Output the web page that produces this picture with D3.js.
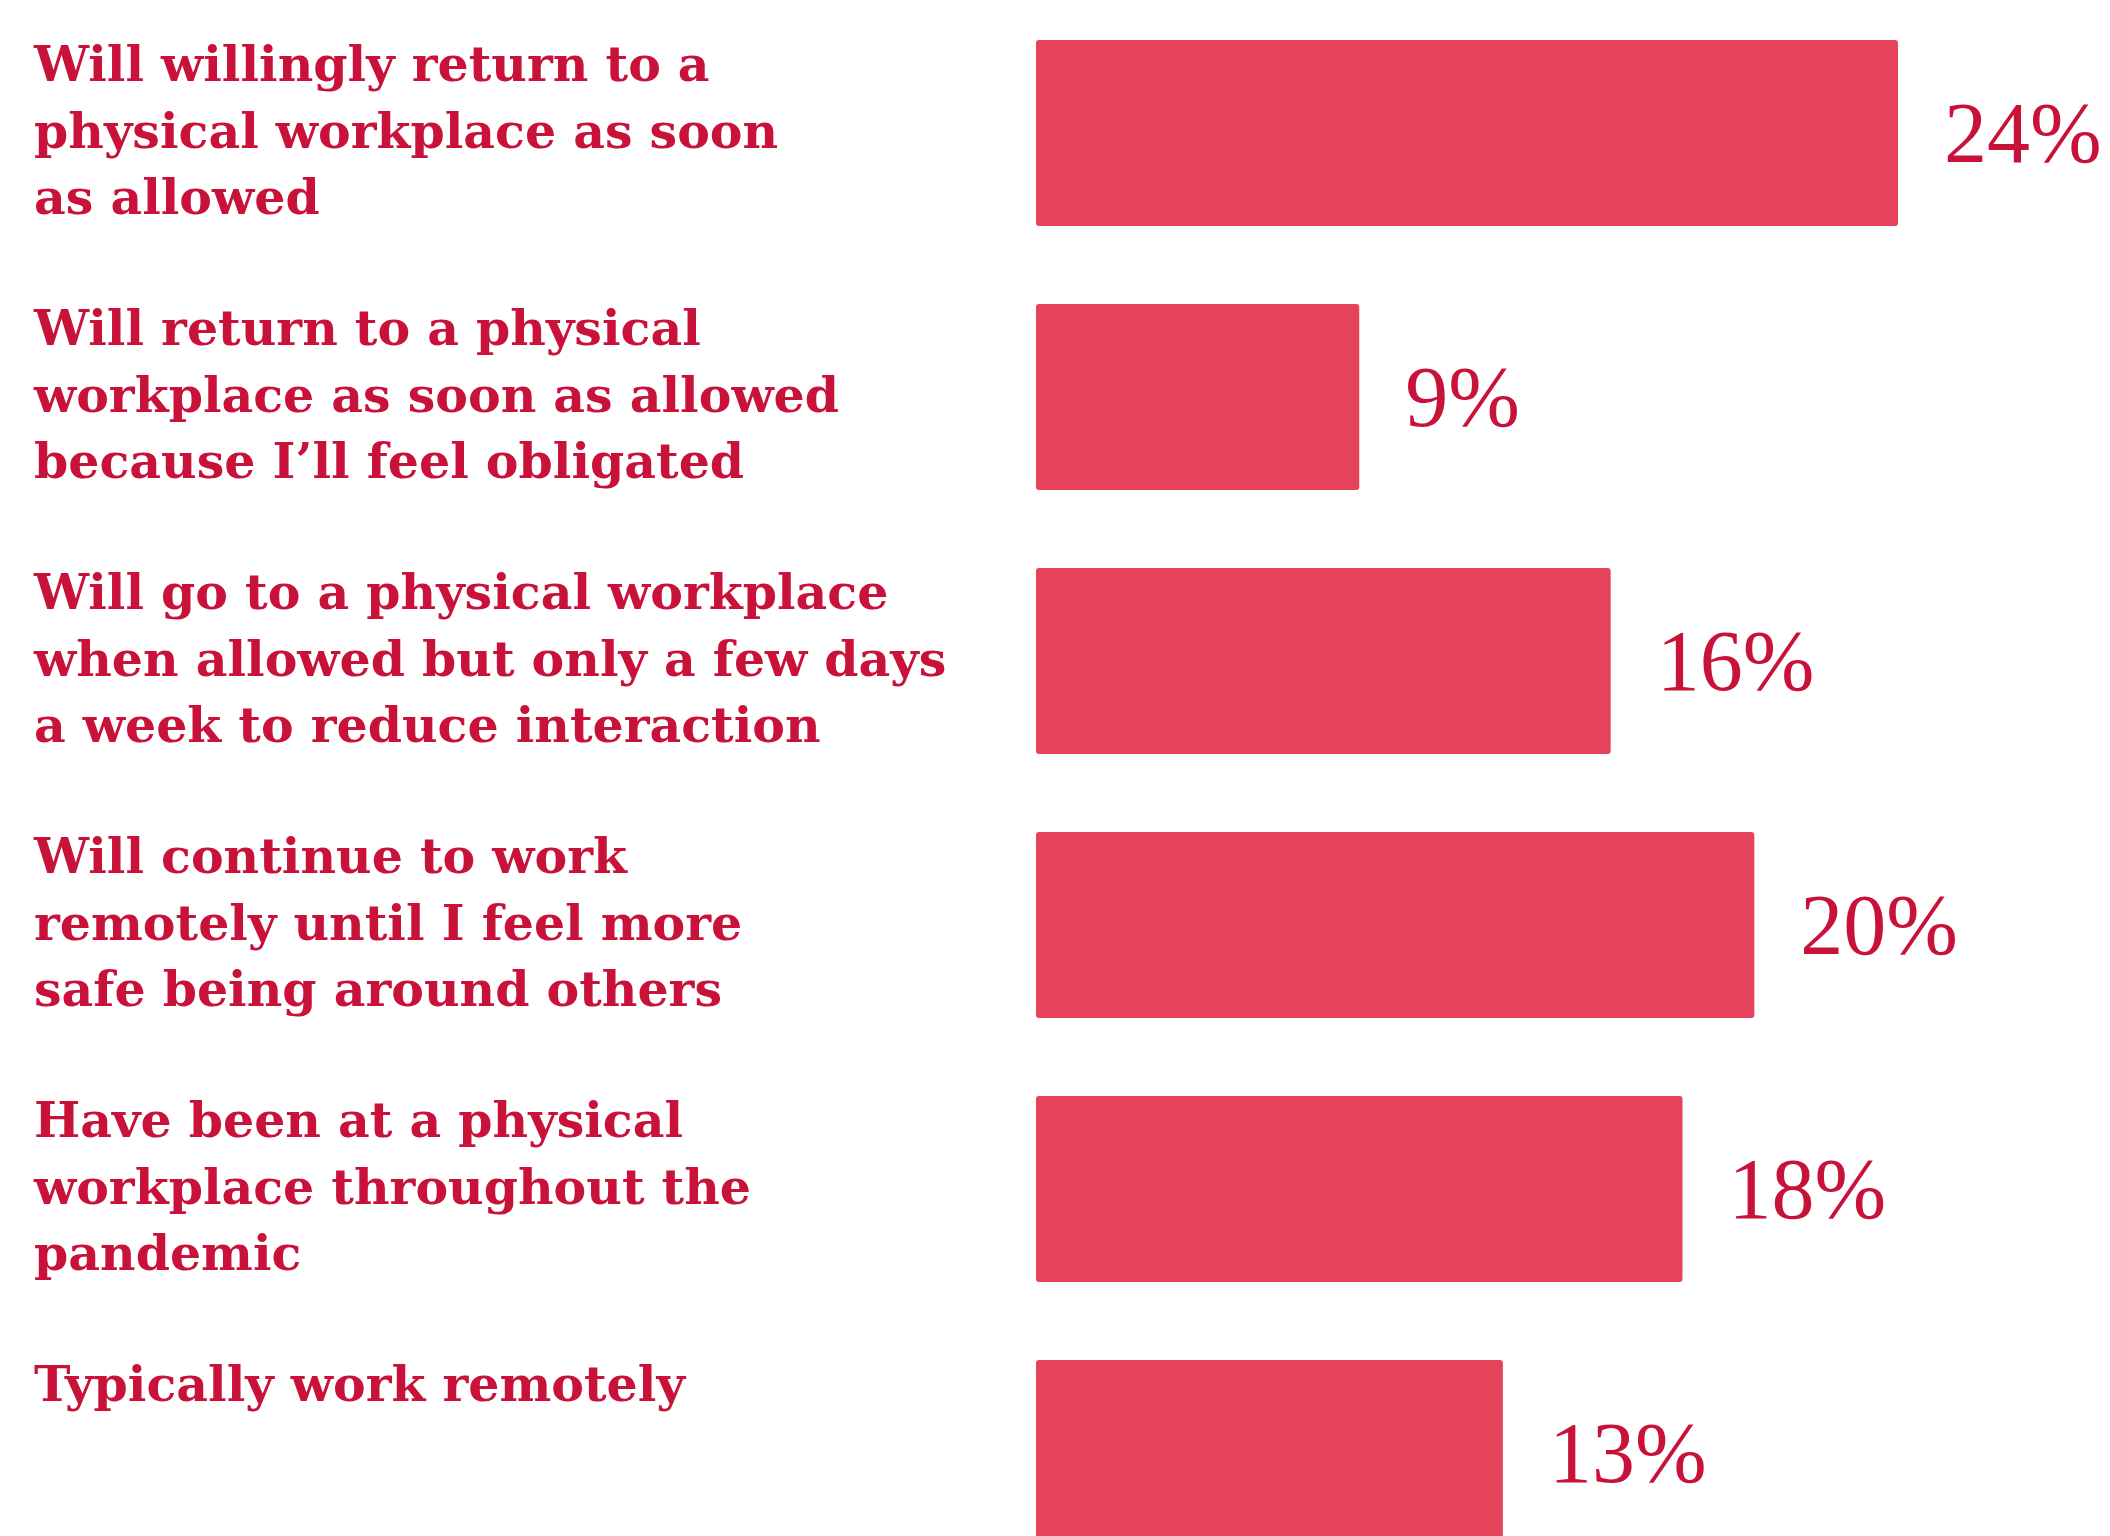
<!DOCTYPE html>
<html>
<head>
<meta charset="utf-8">
<script src="https://cdn.jsdelivr.net/npm/d3@7"></script>
<style>
  html, body { margin: 0; padding: 0; background: #ffffff; }
  svg { display: block; }
</style>
</head>
<body>
<svg id="chart" width="2110" height="1536"></svg>
<script>
// Survey answers, one bar each; "\n" marks where a label wraps.
const categories = [
  "Will willingly return to a\nphysical workplace as soon\nas allowed",
  "Will return to a physical\nworkplace as soon as allowed\nbecause I\u2019ll feel obligated",
  "Will go to a physical workplace\nwhen allowed but only a few days\na week to reduce interaction",
  "Will continue to work\nremotely until I feel more\nsafe being around others",
  "Have been at a physical\nworkplace throughout the\npandemic",
  "Typically work remotely"
];
const shares = [24, 9, 16, 20, 18, 13];

const svg = d3.select("#chart");

const barColor = "#e4435b";
const textColor = "#c9123a";

const x = d3.scaleLinear().domain([0, 24]).range([1036, 1898]);
const y = d3.scaleBand()
  .domain(categories)
  .range([40, 1546])
  .paddingInner(0.2955)
  .paddingOuter(0);

// Bars
svg.append("g")
  .selectAll("rect")
  .data(categories)
  .join("rect")
  .attr("x", x(0))
  .attr("y", d => y(d))
  .attr("width", (d, i) => x(shares[i]) - x(0))
  .attr("height", y.bandwidth())
  .attr("rx", 3)
  .attr("fill", barColor);

// Value labels at the end of each bar
svg.append("g")
  .selectAll("text")
  .data(categories)
  .join("text")
  .attr("x", (d, i) => x(shares[i]) + 46)
  .attr("y", d => y(d) + y.bandwidth() / 2 + 29)
  .attr("fill", textColor)
  .attr("font-family", "'Liberation Serif', serif")
  .attr("font-size", 86)
  .text((d, i) => shares[i] + "%");

// Category labels, wrapped onto several lines
const labels = svg.append("g")
  .selectAll("text")
  .data(categories)
  .join("text")
  .attr("x", 34)
  .attr("y", d => y(d) + 41)
  .attr("fill", textColor)
  .attr("font-family", "'DejaVu Serif', serif")
  .attr("font-weight", "bold")
  .attr("font-size", 49);

labels.selectAll("tspan")
  .data(d => d.split("\n"))
  .join("tspan")
  .attr("x", 34)
  .attr("dy", (d, i) => i === 0 ? 0 : 66.5)
  .text(d => d);
</script>
</body>
</html>
